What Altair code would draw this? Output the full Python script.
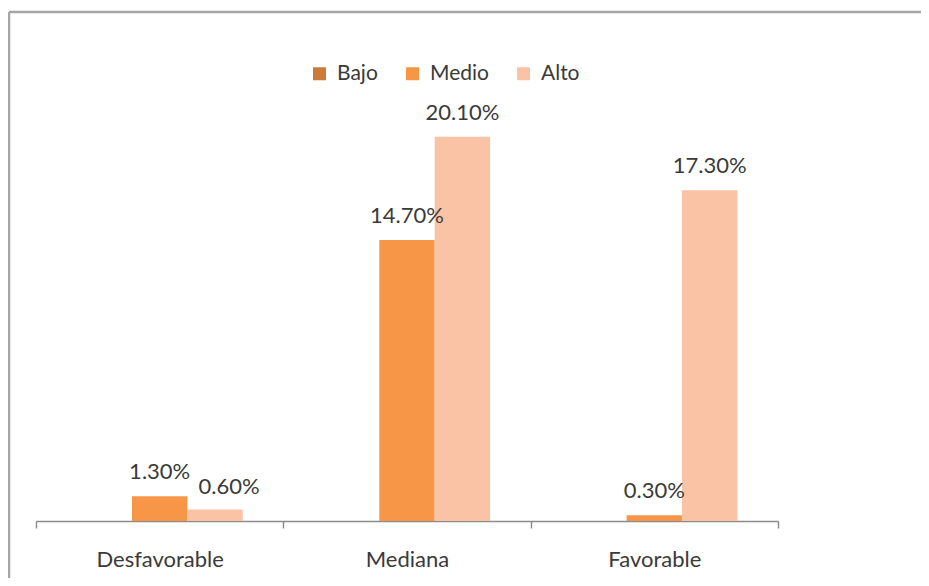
import altair as alt
import pandas as pd

categories = ["Desfavorable", "Mediana", "Favorable"]
series = ["Bajo", "Medio", "Alto"]
bajo = [0.0, 0.0, 0.0]
medio = [1.3, 14.7, 0.3]
alto = [0.6, 20.1, 17.3]
colors = ["#CC7A3A", "#F79646", "#FAC3A6"]

rows = []
for s, vals in zip(series, [bajo, medio, alto]):
    for c, v in zip(categories, vals):
        rows.append({"Categoria": c, "Serie": s, "Valor": v, "Pct": v / 100})
df = pd.DataFrame(rows)

FONT = "Lato"
TXT = "#3A3A3A"

x_enc = alt.X("Categoria:N", sort=categories,
              scale=alt.Scale(paddingInner=0, paddingOuter=0),
              axis=alt.Axis(title=None, labelFont=FONT, labelFontSize=22, labelColor=TXT,
                            labelAngle=0, domainColor="#8C8C8C", domainWidth=1.5,
                            tickColor="#8C8C8C", tickWidth=1.5, tickSize=7,
                            tickBand="extent", labelPadding=21, grid=False))
xoff = alt.XOffset("Serie:N", sort=series,
                   scale=alt.Scale(paddingInner=0, paddingOuter=0.733))
y_enc = alt.Y("Valor:Q", scale=alt.Scale(domain=[0, 25]), axis=None)

base = alt.Chart(df)

bars = base.mark_bar().encode(
    x=x_enc, xOffset=xoff, y=y_enc,
    color=alt.Color("Serie:N", sort=series,
                    scale=alt.Scale(domain=series, range=colors),
                    legend=alt.Legend(title=None, orient="none", legendX=273, legendY=20,
                                      direction="horizontal", symbolType="square",
                                      symbolSize=169, symbolStrokeWidth=0,
                                      labelFont=FONT, labelFontSize=21, labelColor=TXT,
                                      labelOffset=7, columnPadding=24)),
)

labels_main = base.transform_filter(
    "datum.Valor > 0 && !(datum.Categoria == 'Desfavorable' && datum.Serie == 'Alto')"
).mark_text(font=FONT, fontSize=22, color=TXT, baseline="alphabetic", dy=-17).encode(
    x=x_enc, xOffset=xoff, y=y_enc, text=alt.Text("Pct:Q", format=".2%"),
)

labels_shift = base.transform_filter(
    "datum.Valor > 0 && datum.Categoria == 'Desfavorable' && datum.Serie == 'Alto'"
).mark_text(font=FONT, fontSize=22, color=TXT, baseline="alphabetic", dy=-16, dx=14).encode(
    x=x_enc, xOffset=xoff, y=y_enc, text=alt.Text("Pct:Q", format=".2%"),
)

frame_df = pd.DataFrame({"k": [0]})
frame_left = alt.Chart(frame_df).mark_rule(color="#A6A6A6", strokeWidth=2.5).encode(
    x=alt.value(-27), y=alt.value(-31), y2=alt.value(600))
frame_top = alt.Chart(frame_df).mark_rule(color="#A6A6A6", strokeWidth=2.5).encode(
    x=alt.value(-27), x2=alt.value(900), y=alt.value(-31))

chart = alt.layer(frame_left, frame_top, bars, labels_main, labels_shift).properties(
    width=742, height=478,
    background="white",
    autosize=alt.AutoSizeParams(type="none"),
    padding={"left": 28, "top": 35, "right": 143, "bottom": 57},
).configure_view(strokeWidth=0)

chart.save("out.html", embed_options={"renderer": "svg", "actions": False})
